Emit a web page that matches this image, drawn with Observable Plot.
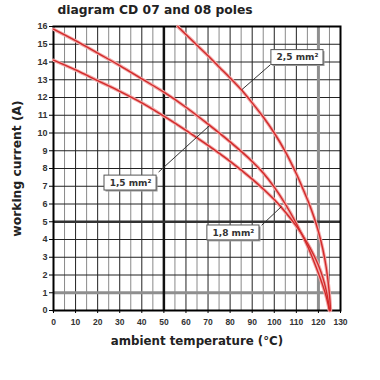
<!DOCTYPE html>
<html><head><meta charset="utf-8">
<script src="https://cdn.jsdelivr.net/npm/d3@7"></script>
<script src="https://cdn.jsdelivr.net/npm/@observablehq/plot@0.6"></script>
<style>
body{margin:0;background:#fff;}
g[aria-label="title"] text, g[aria-label="axis-title"] text {letter-spacing:0.6px;}
</style></head><body><div id="chart"></div>
<script>
// ---- data ----
const titleText = "diagram CD 07 and 08 poles";
const xLabel = "ambient temperature (°C)";
const yLabel = "working current (A)";
const xTicks = [0,10,20,30,40,50,60,70,80,90,100,110,120,130];
const yTicks = [0,1,2,3,4,5,6,7,8,9,10,11,12,13,14,15,16];
const minorX = [5,15,25,35,45,55,65,75,85,95,105,115,125];
const majorX = [10,20,30,40,60,70,80,90,100,110];
const gridY = [2,3,4,6,7,8,9,10,11,12,13,14,15];

// curve "2,5 mm²"
const temp25 = [56.3,60,65,70,75,80,85,90,95,100,105,110,113,116,118,120,122,123.5,124.5,125.2,125.5];
const curr25 = [16,15.55,14.95,14.35,13.72,13.1,12.45,11.7,10.9,10.0,8.95,7.7,6.85,5.95,5.25,4.45,3.45,2.45,1.5,0.6,0];
// curve "1,5 mm²" (starts at 15.85 A)
const temp15 = [0,10,20,30,40,50,60,70,80,90,95,100,105,110,115,118,120,122,123.5,125];
const curr15 = [15.85,15.2,14.5,13.8,13.05,12.3,11.45,10.5,9.5,8.4,7.75,6.95,6.0,4.9,3.65,2.75,2.1,1.4,0.8,0];
// curve "1,8 mm²" (starts at 14.1 A)
const temp18 = [0,10,20,30,40,50,60,70,80,90,95,100,105,110,115,118,120,122,123.5,124.5,125];
const curr18 = [14.1,13.55,12.95,12.35,11.7,10.95,10.15,9.3,8.4,7.4,6.85,6.25,5.55,4.75,3.8,3.1,2.55,1.85,1.15,0.5,0];

// annotation labels
const labelNames = ["2,5 mm²","1,5 mm²","1,8 mm²"];
const labelX = [110.5, 34.9, 81.5];
const labelY = [14.25, 7.18, 4.37];
const leadX1 = [98.2, 47.6, 94.3];
const leadY1 = [13.84, 7.8, 4.8];
const leadX2 = [85.4, 70.5, 103.2];
const leadY2 = [12.45, 10.4, 5.85];

// ---- build tables ----
const series = [
  {name:"2,5 mm²", t:temp25, c:curr25},
  {name:"1,5 mm²", t:temp15, c:curr15},
  {name:"1,8 mm²", t:temp18, c:curr18}
];
const rows = [];
series.forEach(s => s.t.forEach((t,i) => rows.push({name:s.name, t, c:s.c[i]})));
const halfW = 11.8, halfH = 0.42;
const labels = labelNames.map((n,i) => ({n, x:labelX[i], y:labelY[i], x1:labelX[i]-halfW, x2:labelX[i]+halfW, y1:labelY[i]-halfH, y2:labelY[i]+halfH}));
const leaders = labelNames.map((n,i) => ({x1:leadX1[i], y1:leadY1[i], x2:leadX2[i], y2:leadY2[i]}));

const font = "'DejaVu Sans', sans-serif";
const chart = Plot.plot({
  width: 380, height: 380,
  marginTop: 26, marginBottom: 70, marginLeft: 53, marginRight: 40,
  x: {domain: [0,130]},
  y: {domain: [0,16]},
  style: {background: "#fff", fontFamily: "'Liberation Sans', sans-serif"},
  marks: [
    Plot.ruleX(minorX, {stroke: "#8a8a8a", strokeWidth: 1}),
    Plot.ruleX(majorX, {stroke: "#222", strokeWidth: 1}),
    Plot.ruleY(gridY, {stroke: "#222", strokeWidth: 1}),
    Plot.ruleX([120], {stroke: "#8f8f8f", strokeWidth: 3}),
    Plot.ruleY([1], {stroke: "#8f8f8f", strokeWidth: 3}),
    Plot.ruleX([50], {stroke: "#111", strokeWidth: 2.5}),
    Plot.ruleY([5], {stroke: "#333", strokeWidth: 2.5}),
    Plot.frame({stroke: "#000", strokeWidth: 2}),
    Plot.line(rows, {x: "t", y: "c", z: "name", stroke: "#f2a8a8", strokeWidth: 3.4, curve: "catmull-rom"}),
    Plot.line(rows, {x: "t", y: "c", z: "name", stroke: "#d22a2a", strokeWidth: 1.4, curve: "catmull-rom"}),
    Plot.link(leaders, {x1: "x1", y1: "y1", x2: "x2", y2: "y2", stroke: "#333", strokeWidth: 1}),
    Plot.rect(labels, {x1: "x1", x2: "x2", y1: "y1", y2: "y2", fill: "#9a9a9a", dx: 1.5, dy: 1.5}),
    Plot.rect(labels, {x1: "x1", x2: "x2", y1: "y1", y2: "y2", fill: "#fff", stroke: "#555", strokeWidth: 1}),
    Plot.text(labels, {x: "x", y: "y", text: "n", fontFamily: font, fontWeight: "bold", fontSize: 9, fill: "#333"}),
    Plot.axisX(xTicks, {tickSize: 3, tickPadding: 5, fontSize: 8.5, fontWeight: "bold", fill: "#333", label: null}),
    Plot.axisY(yTicks, {tickSize: 4, tickPadding: 2, fontSize: 9, fontWeight: "bold", fill: "#333", label: null}),
    Plot.text([titleText], {frameAnchor: "top-left", dx: 4, dy: -13, lineAnchor: "bottom", textAnchor: "start", fontFamily: font, fontWeight: "bold", fontSize: 12.3, fill: "#222", ariaLabel: "title"}),
    Plot.text([xLabel], {frameAnchor: "bottom", dy: 34, lineAnchor: "bottom", textAnchor: "middle", fontFamily: font, fontWeight: "bold", fontSize: 11.8, fill: "#222", ariaLabel: "axis-title"}),
    Plot.text([yLabel], {frameAnchor: "left", dx: -33, rotate: -90, lineAnchor: "bottom", textAnchor: "middle", fontFamily: font, fontWeight: "bold", fontSize: 12.3, fill: "#222", ariaLabel: "axis-title"})
  ]
});
document.getElementById("chart").appendChild(chart);
</script>
</body></html>
